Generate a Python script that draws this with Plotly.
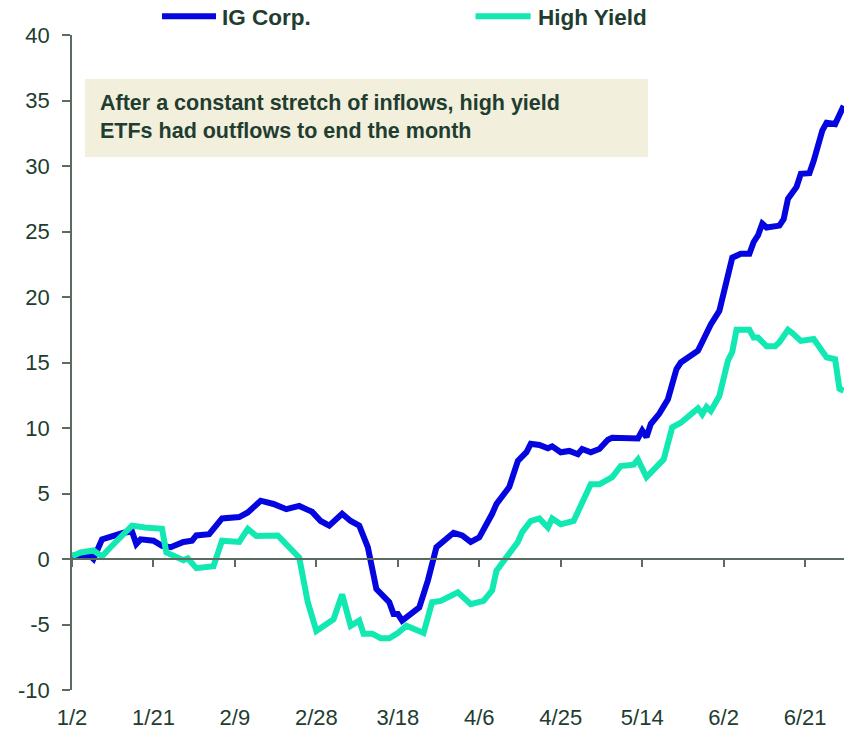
import plotly.graph_objects as go

# cumulative ETF flows
ig_dates = [
    "2020-01-02", "2020-01-06", "2020-01-07", "2020-01-09", "2020-01-14", "2020-01-16",
    "2020-01-17", "2020-01-18", "2020-01-21", "2020-01-23", "2020-01-25", "2020-01-28",
    "2020-01-30", "2020-01-31", "2020-02-03", "2020-02-06", "2020-02-10", "2020-02-12",
    "2020-02-15", "2020-02-18", "2020-02-21", "2020-02-24", "2020-02-26", "2020-02-27",
    "2020-02-29", "2020-03-02", "2020-03-05", "2020-03-07", "2020-03-09", "2020-03-11",
    "2020-03-13", "2020-03-16", "2020-03-17", "2020-03-18", "2020-03-19", "2020-03-23",
    "2020-03-25", "2020-03-27", "2020-03-31", "2020-04-02", "2020-04-04", "2020-04-06",
    "2020-04-09", "2020-04-10", "2020-04-13", "2020-04-15", "2020-04-17", "2020-04-18",
    "2020-04-20", "2020-04-22", "2020-04-23", "2020-04-25", "2020-04-27", "2020-04-29",
    "2020-04-30", "2020-05-02", "2020-05-04", "2020-05-06", "2020-05-07", "2020-05-11",
    "2020-05-13", "2020-05-14", "2020-05-15", "2020-05-16", "2020-05-18", "2020-05-20",
    "2020-05-22", "2020-05-23", "2020-05-27", "2020-05-30", "2020-06-01", "2020-06-04",
    "2020-06-06", "2020-06-08", "2020-06-09", "2020-06-10", "2020-06-11", "2020-06-12",
    "2020-06-15", "2020-06-16", "2020-06-17", "2020-06-19", "2020-06-20", "2020-06-22",
    "2020-06-23", "2020-06-25", "2020-06-26", "2020-06-28", "2020-06-30",
]
ig_values = [
    0.25, 0.3, 0.0, 1.5, 2.0, 2.1,
    1.15, 1.5, 1.4, 1.0, 0.9, 1.3,
    1.4, 1.8, 1.9, 3.1, 3.2, 3.55,
    4.45, 4.2, 3.8, 4.05, 3.75, 3.6,
    2.9, 2.55, 3.45, 2.9, 2.55, 0.9,
    -2.3, -3.3, -4.2, -4.2, -4.7, -3.7,
    -1.65, 0.9, 2.0, 1.8, 1.3, 1.65,
    3.45, 4.2, 5.5, 7.5, 8.15, 8.8,
    8.7, 8.45, 8.6, 8.15, 8.25, 8.0,
    8.4, 8.15, 8.4, 9.1, 9.25, 9.15,
    9.2, 9.8, 9.3, 10.3, 11.1, 12.2,
    14.5, 15.0, 15.9, 17.9, 18.95, 23.0,
    23.3, 23.3, 24.2, 24.7, 25.6, 25.3,
    25.45, 25.95, 27.5, 28.4, 29.4, 29.45,
    30.4, 32.7, 33.3, 33.2, 34.6,
]

hy_dates = [
    "2020-01-02", "2020-01-04", "2020-01-07", "2020-01-09", "2020-01-11", "2020-01-14",
    "2020-01-16", "2020-01-19", "2020-01-22", "2020-01-23", "2020-01-24", "2020-01-26",
    "2020-01-28", "2020-01-29", "2020-01-31", "2020-02-04", "2020-02-06", "2020-02-10",
    "2020-02-12", "2020-02-14", "2020-02-19", "2020-02-24", "2020-02-26", "2020-02-28",
    "2020-03-03", "2020-03-05", "2020-03-07", "2020-03-09", "2020-03-10", "2020-03-12",
    "2020-03-14", "2020-03-16", "2020-03-18", "2020-03-20", "2020-03-24", "2020-03-26",
    "2020-03-28", "2020-04-01", "2020-04-04", "2020-04-07", "2020-04-09", "2020-04-10",
    "2020-04-13", "2020-04-15", "2020-04-16", "2020-04-18", "2020-04-20", "2020-04-22",
    "2020-04-23", "2020-04-25", "2020-04-28", "2020-04-29", "2020-05-02", "2020-05-04",
    "2020-05-06", "2020-05-07", "2020-05-09", "2020-05-12", "2020-05-13", "2020-05-15",
    "2020-05-19", "2020-05-21", "2020-05-23", "2020-05-27", "2020-05-28", "2020-05-29",
    "2020-05-30", "2020-06-01", "2020-06-03", "2020-06-04", "2020-06-05", "2020-06-08",
    "2020-06-09", "2020-06-10", "2020-06-12", "2020-06-14", "2020-06-15", "2020-06-17",
    "2020-06-18", "2020-06-20", "2020-06-23", "2020-06-24", "2020-06-26", "2020-06-28",
    "2020-06-29", "2020-06-30",
]
hy_values = [
    0.2, 0.5, 0.65, 0.2, 0.9, 1.9,
    2.55, 2.4, 2.3, 2.3, 0.5, 0.2,
    -0.1, 0.05, -0.7, -0.55, 1.4, 1.3,
    2.3, 1.75, 1.8, 0.1, -3.3, -5.5,
    -4.6, -2.7, -5.1, -4.7, -5.7, -5.7,
    -6.05, -6.05, -5.65, -5.1, -5.65, -3.3,
    -3.2, -2.55, -3.45, -3.2, -2.4, -0.9,
    0.4, 1.3, 2.05, 2.9, 3.1, 2.4,
    3.1, 2.65, 2.9, 3.55, 5.7, 5.7,
    6.15, 6.25, 7.1, 7.2, 7.6, 6.25,
    7.6, 10.05, 10.4, 11.5, 11.05, 11.6,
    11.3, 12.45, 15.15, 15.8, 17.5, 17.5,
    16.9, 16.9, 16.25, 16.25, 16.55, 17.5,
    17.25, 16.65, 16.8, 16.3, 15.4, 15.25,
    13.0, 12.85,
]

tick_dates = ["2020-01-02", "2020-01-21", "2020-02-09", "2020-02-28", "2020-03-18",
              "2020-04-06", "2020-04-25", "2020-05-14", "2020-06-02", "2020-06-21"]
tick_labels = ["1/2", "1/21", "2/9", "2/28", "3/18", "4/6", "4/25", "5/14", "6/2", "6/21"]
y_ticks = [-10, -5, 0, 5, 10, 15, 20, 25, 30, 35, 40]
y_labels = ["-10", "-5", "0", "5", "10", "15", "20", "25", "30", "35", "40"]

IG_COLOR = "#0505e0"
HY_COLOR = "#12e8b2"
TEXT = "#213d30"
AXIS = "#5b6b60"
FONT = "Liberation Sans, Arial, sans-serif"
x_range = ["2020-01-02", "2020-07-01"]

fig = go.Figure()
fig.add_trace(go.Scatter(x=ig_dates, y=ig_values, mode="lines", name="IG Corp.",
                         line=dict(color=IG_COLOR, width=6)))
fig.add_trace(go.Scatter(x=hy_dates, y=hy_values, mode="lines", name="High Yield",
                         line=dict(color=HY_COLOR, width=6)))
# dummy trace on xaxis2 so the zero axis gets drawn
fig.add_trace(go.Scatter(x=[x_range[0]], y=[None], xaxis="x2", showlegend=False,
                         hoverinfo="skip"))

# page body has an 8px margin, so the figure is 8px smaller than the window
fig.update_layout(
    width=844, height=725,
    margin=dict(l=64, r=4, t=27, b=43),
    paper_bgcolor="white", plot_bgcolor="white",
    font=dict(family=FONT, color=TEXT, size=22),
    showlegend=False,
    xaxis=dict(
        type="date", range=x_range, showgrid=False, zeroline=False, showline=False,
        tickmode="array", tickvals=tick_dates, ticktext=tick_labels, ticks="",
        ticklabelstandoff=12, tickfont=dict(size=22, color=TEXT), automargin=False,
    ),
    xaxis2=dict(
        type="date", range=x_range, overlaying="x", anchor="free", position=0.2,
        side="bottom", showgrid=False, zeroline=False, showline=True,
        linecolor=AXIS, linewidth=1.5, tickmode="array", tickvals=tick_dates,
        ticks="outside", ticklen=7, tickcolor=AXIS, tickwidth=1.5,
        showticklabels=False, automargin=False,
    ),
    yaxis=dict(
        range=[-10, 40], tickmode="array", tickvals=y_ticks, ticktext=y_labels,
        showgrid=False, zeroline=False, showline=True,
        linecolor=AXIS, linewidth=1.5, ticks="outside", ticklen=8, tickcolor=AXIS,
        tickwidth=1.5, tickfont=dict(size=22, color=TEXT), ticklabelstandoff=8,
        automargin=False,
    ),
)

# callout box
fig.add_shape(type="rect", xref="paper", yref="paper", x0=0.0168, x1=0.7423,
              y0=0.8137, y1=0.9328, fillcolor="#f2efdc", line=dict(width=0),
              layer="below")
fig.add_annotation(
    xref="paper", yref="paper", x=0.033, y=0.8748, xanchor="left", yanchor="middle",
    text="<b>After a constant stretch of inflows, high yield<br>ETFs had outflows to end the month</b>",
    showarrow=False, align="left", font=dict(size=21.5, color=TEXT),
)

# hand-made legend on top
legend_y = 1.0265
legend_items = [("IG Corp.", IG_COLOR, 0.116, 0.1856, 0.1907),
                ("High Yield", HY_COLOR, 0.520, 0.591, 0.598)]
for name, color, lx0, lx1, tx in legend_items:
    fig.add_shape(type="line", xref="paper", yref="paper", x0=lx0, x1=lx1,
                  y0=legend_y + 0.002, y1=legend_y + 0.002, line=dict(color=color, width=6))
    fig.add_annotation(xref="paper", yref="paper", x=tx, y=legend_y, xanchor="left",
                       yanchor="middle", text="<b>" + name + "</b>", showarrow=False,
                       font=dict(size=22.5, color=TEXT))

fig.write_html("out.html")
